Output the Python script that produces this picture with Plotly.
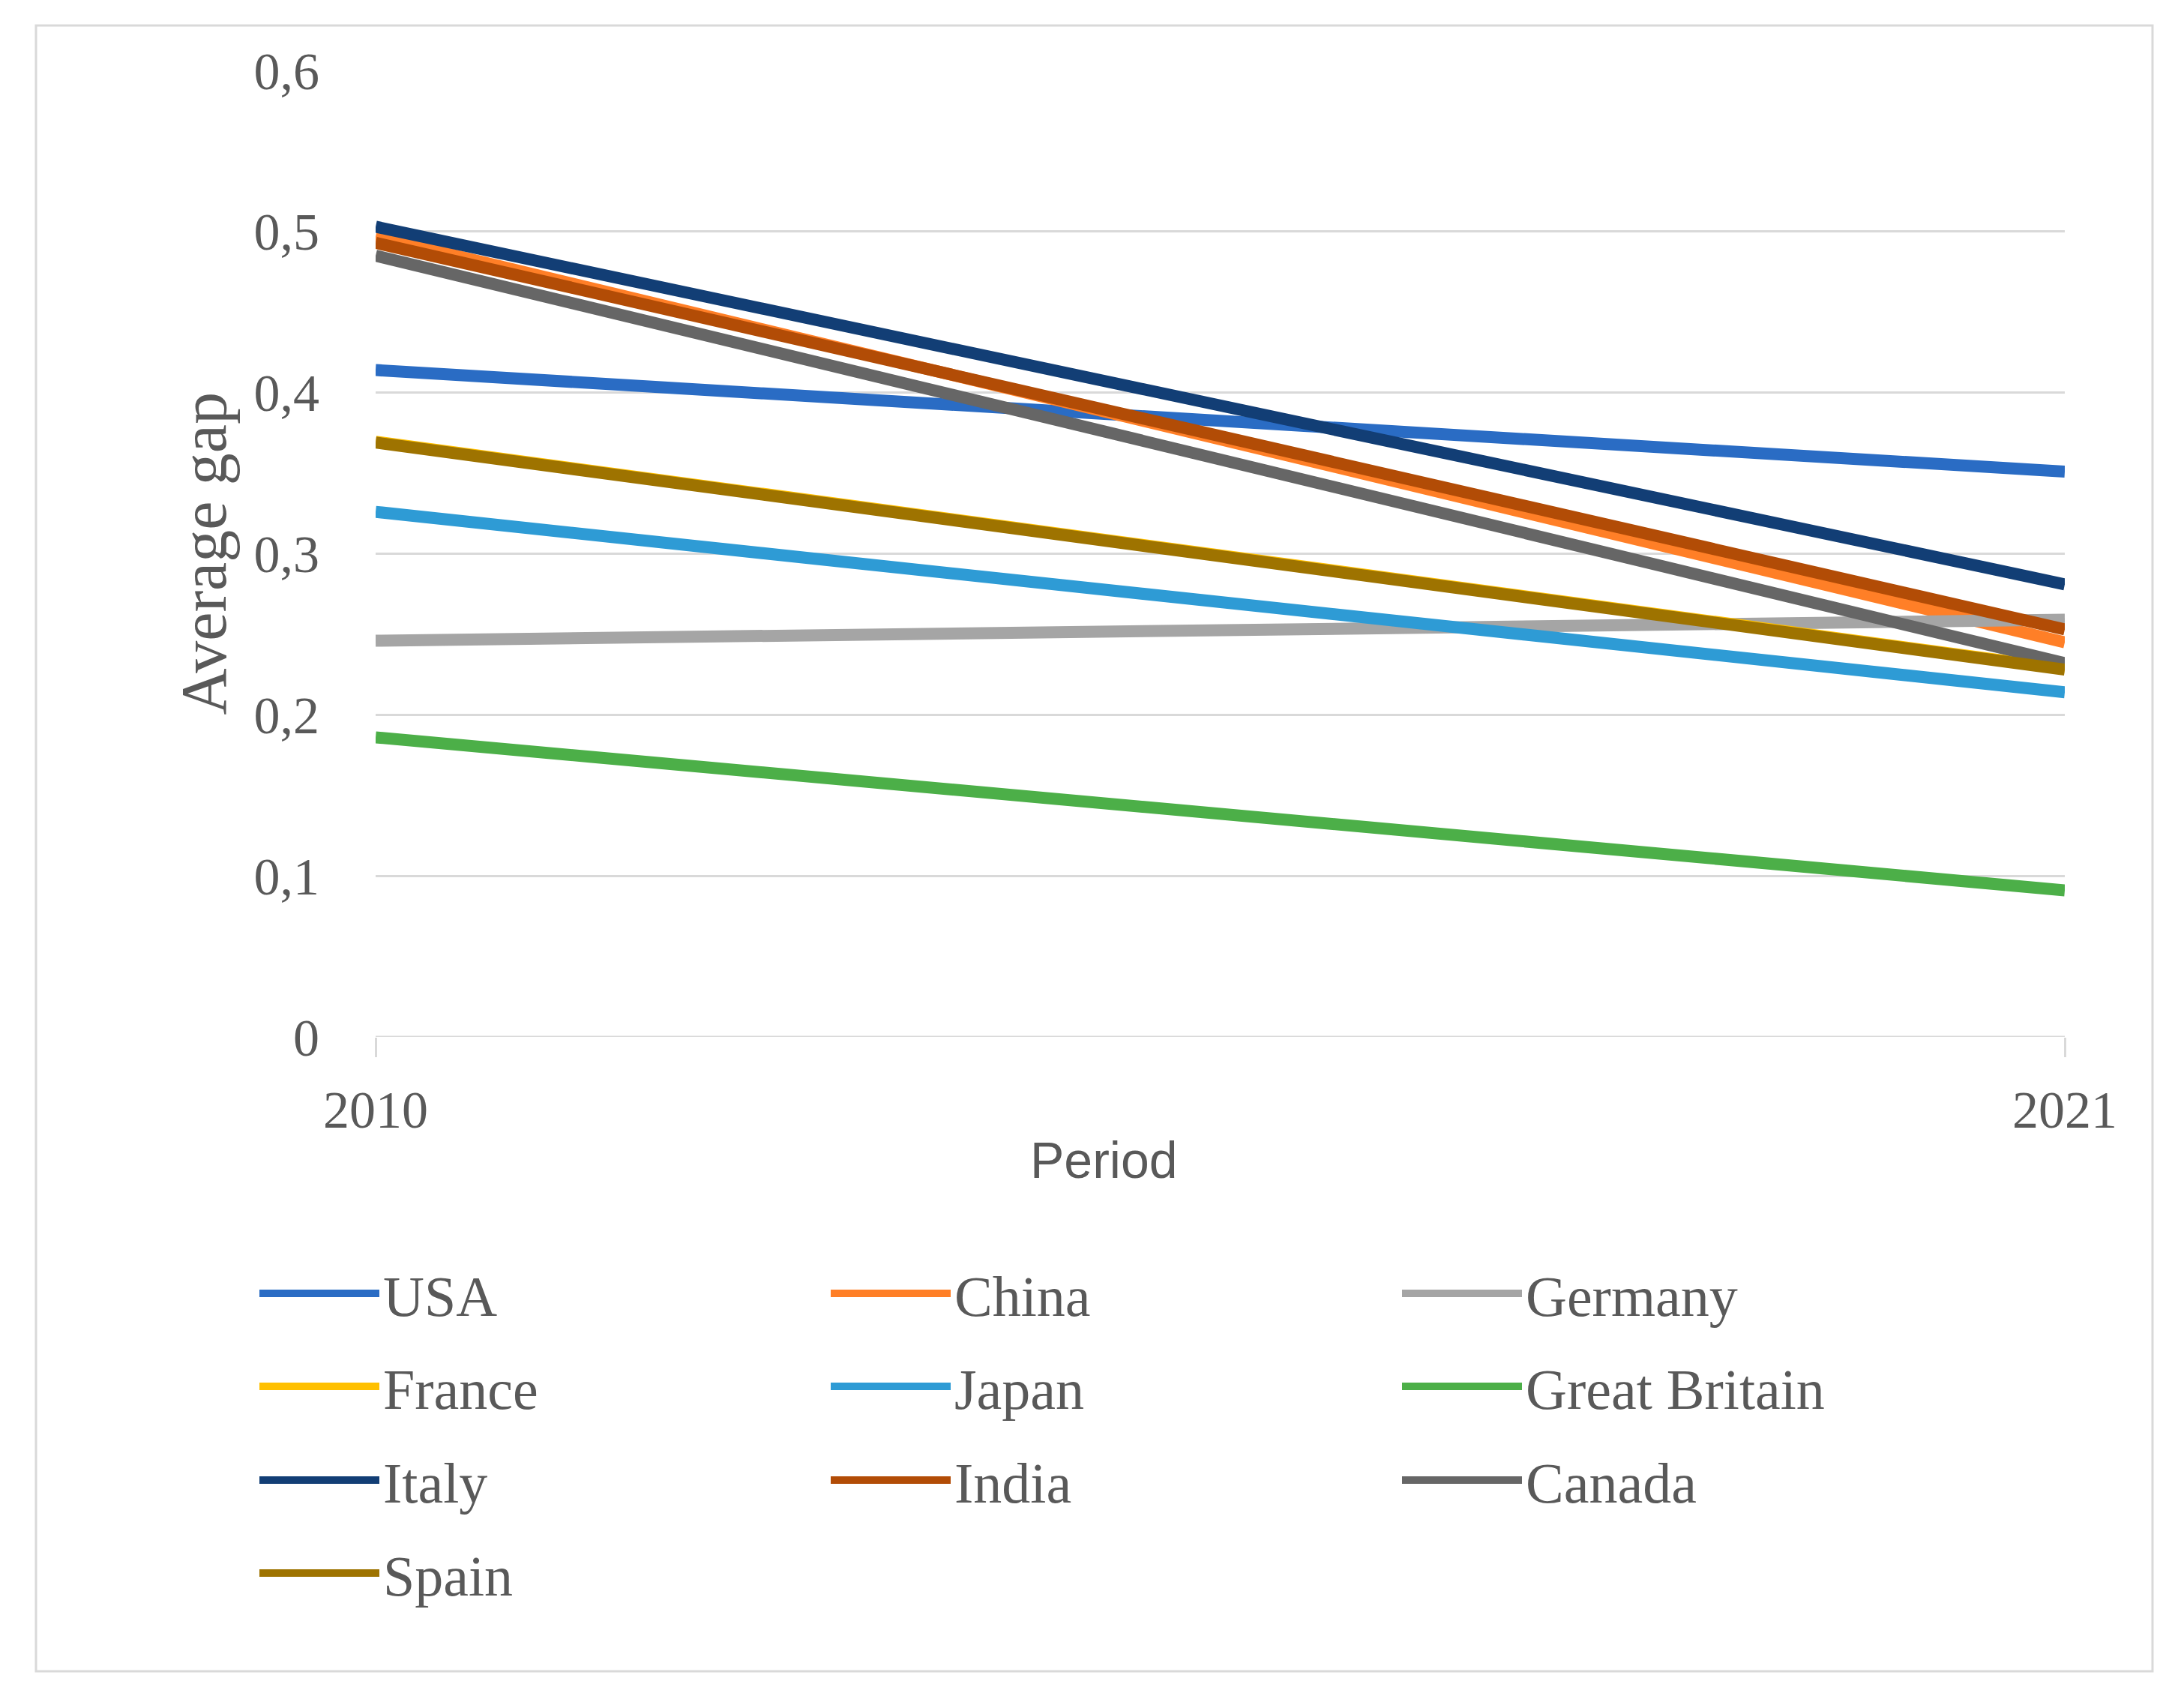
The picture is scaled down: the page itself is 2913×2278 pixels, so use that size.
import plotly.graph_objects as go

years = [2010, 2021]
countries = ["USA", "China", "Germany", "France", "Japan", "Great Britain",
             "Italy", "India", "Canada", "Spain"]
start_2010 = [0.414, 0.497, 0.246, 0.3695, 0.326, 0.186, 0.503, 0.493, 0.485, 0.369]
end_2021 = [0.351, 0.245, 0.259, 0.2285, 0.214, 0.091, 0.281, 0.253, 0.232, 0.228]
colors = ["#2A6CC4", "#FF7F27", "#A5A5A5", "#FFC000", "#2E9BD5", "#4CAF48",
          "#123E75", "#B24C06", "#666666", "#9E7300"]
ytick_vals = [0, 0.1, 0.2, 0.3, 0.4, 0.5, 0.6]
ytick_text = ["0", "0,1", "0,2", "0,3", "0,4", "0,5", "0,6"]
xtick_vals = [2010, 2021]
xtick_text = ["2010", "2021"]

W, H = 2913, 2278
L, R, T, B = 493, 2913 - 2746, 86, 2278 - 1375
pw, ph = W - L - R, H - T - B

def px_x(x):
    return (x - L) / pw

def px_y(y):
    return (H - B - y) / ph

SERIF = "Liberation Serif"
TXT = "#595959"

fig = go.Figure()
legend_names = ["legend", "legend2", "legend3", "legend4"]
for i, (c, a, b, col) in enumerate(zip(countries, start_2010, end_2021, colors)):
    fig.add_trace(go.Scatter(
        x=years, y=[a, b], mode="lines", name=c,
        line=dict(color=col, width=16),
        legend=legend_names[i // 3],
    ))

row_y = [1717, 1841, 1966, 2090]
leg_common = dict(
    orientation="h", xanchor="left", yanchor="middle",
    entrywidth=587, entrywidthmode="pixels", itemwidth=160,
    font=dict(family=SERIF, size=76, color=TXT),
    bgcolor="rgba(0,0,0,0)", tracegroupgap=0,
)
legends = {}
for k, ln in enumerate(legend_names):
    legends[ln] = dict(x=px_x(333), y=px_y(row_y[k]), **leg_common)

fig.update_layout(
    width=W, height=H,
    margin=dict(l=L, r=R, t=T, b=B),
    paper_bgcolor="white", plot_bgcolor="white",
    showlegend=True,
    **legends,
    xaxis=dict(
        range=[2010, 2021], tickvals=xtick_vals, ticktext=xtick_text,
        showgrid=False, zeroline=False,
        showline=False, ticks="outside", ticklen=26, tickwidth=3,
        tickcolor="#D9D9D9", ticklabelstandoff=10,
        tickfont=dict(family=SERIF, size=70, color=TXT),
    ),
    yaxis=dict(
        range=[0, 0.6], tickvals=ytick_vals, ticktext=ytick_text,
        showgrid=True, gridcolor="#D9D9D9", gridwidth=3,
        zeroline=False, showline=False, ticks="",
        ticklabelstandoff=74,
        tickfont=dict(family=SERIF, size=70, color=TXT),
    ),
    shapes=[
        dict(type="rect", xref="paper", yref="paper",
             x0=px_x(40), x1=px_x(2863), y0=px_y(2221), y1=px_y(26),
             line=dict(color="#D9D9D9", width=3), layer="below"),
        dict(type="line", xref="paper", yref="y", x0=0, x1=1, y0=0, y1=0,
             line=dict(color="#D9D9D9", width=3), layer="below"),
    ],
    annotations=[
        dict(text="Period", xref="paper", yref="paper",
             x=px_x(1464), y=px_y(1539), showarrow=False,
             xanchor="center", yanchor="middle",
             font=dict(family="Liberation Sans", size=68, color=TXT)),
        dict(text="Average gap", xref="paper", yref="paper",
             x=px_x(263), y=0.5, showarrow=False, textangle=-90,
             xanchor="center", yanchor="middle",
             font=dict(family=SERIF, size=86, color=TXT)),
    ],
)

fig.write_html("out.html")
